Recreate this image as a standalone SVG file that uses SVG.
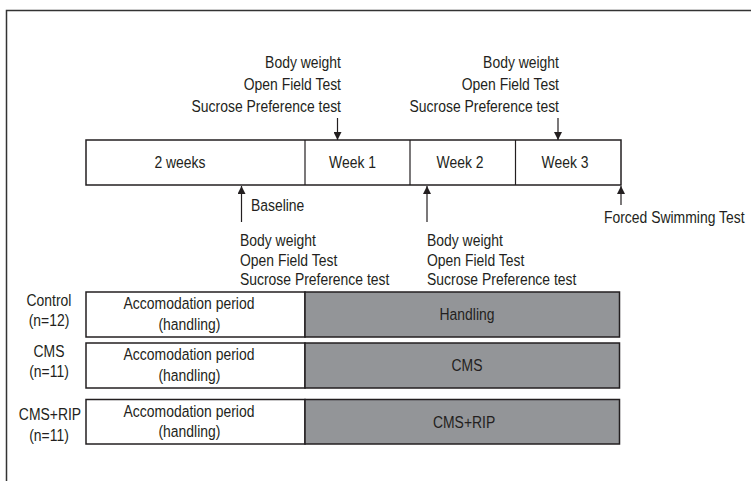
<svg xmlns="http://www.w3.org/2000/svg" width="751" height="481" viewBox="0 0 751 481">
<style>
text{font-family:"Liberation Sans",Arial,sans-serif;font-size:17px;fill:#231f20}
.m{text-anchor:middle}
.e{text-anchor:end}
.box{fill:#fff;stroke:#231f20;stroke-width:1.5}
.g{fill:#939598;stroke:#231f20;stroke-width:1.5}
.ln{stroke:#231f20;stroke-width:1.2;fill:none}
</style>
<defs>
<marker id="ah" viewBox="0 0 10 10" refX="10" refY="5" markerWidth="11" markerHeight="8" markerUnits="userSpaceOnUse" orient="auto">
<path d="M0,0 L10,5 L0,10 Z" fill="#231f20"/>
</marker>
</defs>
<rect width="751" height="481" fill="#fff"/>
<path d="M6.5,481 V10.5 H751" fill="none" stroke="#333" stroke-width="1.5"/>

<g id="timeline">
<rect class="box" x="86" y="140" width="535" height="45"/>
<line class="ln" x1="305" y1="140" x2="305" y2="185"/>
<line class="ln" x1="410" y1="140" x2="410" y2="185"/>
<line class="ln" x1="515.5" y1="140" x2="515.5" y2="185"/>
<g transform="scale(0.82 1)">
<text class="m" x="219.5" y="168.5">2 weeks</text>
<text class="m" x="429.9" y="168.5">Week 1</text>
<text class="m" x="561" y="168.5">Week 2</text>
<text class="m" x="689" y="168.5">Week 3</text>
</g>
</g>

<g id="top-tests-1" transform="scale(0.82 1)">
<text class="e" x="415.85" y="68">Body weight</text>
<text class="e" x="415.85" y="90">Open Field Test</text>
<text class="e" x="415.85" y="112">Sucrose Preference test</text>
</g>
<g id="top-tests-2" transform="scale(0.82 1)">
<text class="e" x="681.71" y="68">Body weight</text>
<text class="e" x="681.71" y="90">Open Field Test</text>
<text class="e" x="681.71" y="112">Sucrose Preference test</text>
</g>

<g id="baseline" transform="scale(0.82 1)">
<text x="306" y="211">Baseline</text>
</g>
<g id="bottom-tests-1" transform="scale(0.82 1)">
<text x="292.68" y="246">Body weight</text>
<text x="292.68" y="266">Open Field Test</text>
<text x="292.68" y="285.5">Sucrose Preference test</text>
</g>
<g id="bottom-tests-2" transform="scale(0.82 1)">
<text x="520.73" y="246">Body weight</text>
<text x="520.73" y="266">Open Field Test</text>
<text x="520.73" y="285.5">Sucrose Preference test</text>
</g>
<g id="forced" transform="scale(0.82 1)">
<text x="736.5" y="223">Forced Swimming Test</text>
</g>

<g id="connectors">
<line class="ln" x1="337.5" y1="118" x2="337.5" y2="140" marker-end="url(#ah)"/>
<line class="ln" x1="558" y1="118" x2="558" y2="140" marker-end="url(#ah)"/>
<line class="ln" x1="241.5" y1="222" x2="241.5" y2="186" marker-end="url(#ah)"/>
<line class="ln" x1="427" y1="222" x2="427" y2="186" marker-end="url(#ah)"/>
<line class="ln" x1="621" y1="205" x2="621" y2="186" marker-end="url(#ah)"/>
</g>

<g id="control">
<rect class="box" x="86" y="292" width="219" height="45"/>
<rect class="g" x="305" y="292" width="314.5" height="45"/>
<g transform="scale(0.82 1)">
<text class="m" x="59.76" y="306">Control</text>
<text class="m" x="59.76" y="326">(n=12)</text>
<text class="m" x="230.5" y="309">Accomodation period</text>
<text class="m" x="231" y="330">(handling)</text>
<text class="m" x="569.5" y="320">Handling</text>
</g>
</g>

<g id="cms">
<rect class="box" x="86" y="343" width="219" height="45"/>
<rect class="g" x="305" y="343" width="314.5" height="45"/>
<g transform="scale(0.82 1)">
<text class="m" x="59.76" y="357">CMS</text>
<text class="m" x="59.76" y="377">(n=11)</text>
<text class="m" x="230.5" y="360">Accomodation period</text>
<text class="m" x="231" y="381">(handling)</text>
<text class="m" x="569.5" y="371">CMS</text>
</g>
</g>

<g id="cmsrip">
<rect class="box" x="86" y="399.5" width="219" height="44.5"/>
<rect class="g" x="305" y="399.5" width="314.5" height="44.5"/>
<g transform="scale(0.82 1)">
<text class="m" x="60.98" y="420">CMS+RIP</text>
<text class="m" x="59.76" y="441">(n=11)</text>
<text class="m" x="230.5" y="417">Accomodation period</text>
<text class="m" x="231" y="437">(handling)</text>
<text class="m" x="566" y="428">CMS+RIP</text>
</g>
</g>
</svg>
